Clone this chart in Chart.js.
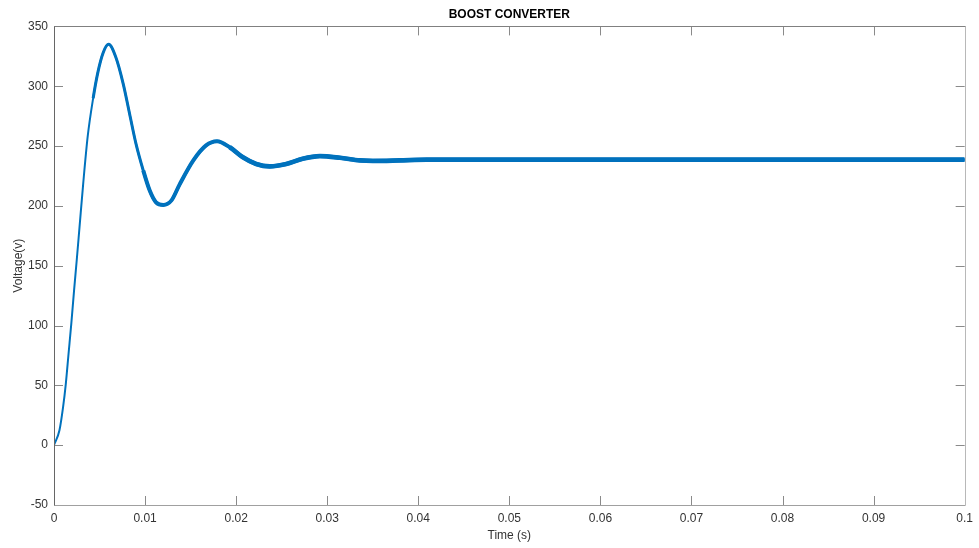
<!DOCTYPE html>
<html lang="en">
<head>
  <meta charset="UTF-8">
  <title>Boost Converter</title>
  <script src="https://cdn.jsdelivr.net/npm/chart.js"></script>
  <style>
    html, body { margin: 0; padding: 0; background: #fff; }
    #wrap { width: 979px; height: 548px; }
  </style>
</head>
<body>
  <div id="wrap"><canvas id="boostChart" width="979" height="548"></canvas></div>

  <script>
    // values
    const times = [0, 0.0006, 0.001, 0.0013, 0.0016, 0.0019, 0.0022, 0.0025, 0.0028, 0.0032,
      0.0037, 0.0043, 0.0048, 0.0054, 0.0060, 0.0068, 0.0076, 0.0083, 0.0090, 0.0098,
      0.0105, 0.0112, 0.0120, 0.0129, 0.0138, 0.0153, 0.0167, 0.0179, 0.0193, 0.0207,
      0.0222, 0.0237, 0.0255, 0.0273, 0.0292, 0.0314, 0.0336, 0.0350, 0.0379, 0.0409,
      0.0456, 0.06, 0.08, 0.1];
    const voltage = [0, 12.5, 32, 51.5, 76.6, 101.6, 129, 155, 182, 218,
      258, 290, 311, 328, 335, 324, 302, 277, 252, 229.6,
      213, 203, 200.8, 204.6, 218, 238, 250.5, 254, 249, 240.8,
      235, 233, 235, 239.4, 241.6, 240.2, 238, 237.6, 238, 238.6,
      238.6, 238.6, 238.6, 238.6];

    const xTicks = [0, 0.01, 0.02, 0.03, 0.04, 0.05, 0.06, 0.07, 0.08, 0.09, 0.1];
    const xTickLabels = ['0', '0.01', '0.02', '0.03', '0.04', '0.05', '0.06', '0.07', '0.08', '0.09', '0.1'];
    const yTicks = [-50, 0, 50, 100, 150, 200, 250, 300, 350];

    const points = times.map((t, i) => ({ x: t, y: voltage[i] }));
    const blue = '#0072BD';

    // the trace gets thicker as the switching ripple grows:
    // same full curve drawn a few times, each copy only visible from `from` on
    function trace(width, from) {
      return {
        data: points,
        borderColor: blue,
        borderWidth: width,
        borderCapStyle: 'butt',
        borderJoinStyle: 'round',
        pointRadius: 0,
        fill: false,
        cubicInterpolationMode: 'monotone',
        segment: {
          borderColor: c => c.p0.parsed.x >= from ? blue : 'rgba(0,0,0,0)'
        }
      };
    }

    // matlab style box with inward ticks on all four sides
    const boxAxes = {
      id: 'boxAxes',
      afterDraw(chart) {
        const {ctx, chartArea: a, scales: {x, y}} = chart;
        const len = 9;
        ctx.save();
        ctx.lineWidth = 1;
        ctx.strokeStyle = '#8a8a8a';
        ctx.beginPath();
        xTicks.forEach(v => {
          const px = Math.round(x.getPixelForValue(v)) + 0.5;
          ctx.moveTo(px, a.bottom); ctx.lineTo(px, a.bottom - len);
          ctx.moveTo(px, a.top); ctx.lineTo(px, a.top + len);
        });
        yTicks.forEach(v => {
          const py = Math.round(y.getPixelForValue(v)) + 0.5;
          ctx.moveTo(a.left, py); ctx.lineTo(a.left + len, py);
          ctx.moveTo(a.right, py); ctx.lineTo(a.right - len, py);
        });
        ctx.stroke();
        const l = Math.round(a.left) + 0.5, r = Math.round(a.right) + 0.5;
        const t = Math.round(a.top) + 0.5, b = Math.round(a.bottom) + 0.5;
        ctx.strokeStyle = '#808080';
        ctx.beginPath(); ctx.moveTo(l, t); ctx.lineTo(r, t); ctx.stroke();
        ctx.strokeStyle = '#666';
        ctx.beginPath(); ctx.moveTo(l, t); ctx.lineTo(l, b); ctx.stroke();
        ctx.strokeStyle = '#a0a0a0';
        ctx.beginPath(); ctx.moveTo(l, b); ctx.lineTo(r, b); ctx.stroke();
        ctx.strokeStyle = '#b8b8b8';
        ctx.beginPath(); ctx.moveTo(r, t); ctx.lineTo(r, b); ctx.stroke();
        ctx.restore();
      }
    };

    const font = { family: "'Liberation Sans', Arial, sans-serif", size: 12 };

    new Chart(document.getElementById('boostChart'), {
      type: 'line',
      data: {
        datasets: [
          trace(2, 0),
          trace(3, 0.0043),
          trace(4, 0.0098),
          trace(4.7, 0.0193)
        ]
      },
      options: {
        responsive: false,
        animation: false,
        layout: { padding: { right: 13, left: 0, top: 0, bottom: 0 } },
        plugins: {
          legend: { display: false },
          tooltip: { enabled: false },
          title: {
            display: true,
            text: 'BOOST CONVERTER',
            fullSize: false,
            color: '#000',
            font: { family: font.family, size: 12, weight: 'bold' },
            padding: { top: 7, bottom: 5 }
          }
        },
        scales: {
          x: {
            type: 'linear',
            min: 0,
            max: 0.1,
            afterFit: s => { s.height = 43; },
            afterBuildTicks: s => { s.ticks = xTicks.map(v => ({ value: v })); },
            grid: { display: false, drawTicks: false, tickLength: 0 },
            border: { display: false },
            ticks: {
              color: '#333',
              font: font,
              padding: 6,
              maxRotation: 0,
              autoSkip: false,
              callback: (v, i) => xTickLabels[i]
            },
            title: {
              display: true,
              text: 'Time (s)',
              color: '#333',
              font: font,
              padding: { top: 0, bottom: 5 }
            }
          },
          y: {
            min: -50,
            max: 350,
            afterFit: s => { s.width = 54; },
            afterBuildTicks: s => { s.ticks = yTicks.map(v => ({ value: v })); },
            grid: { display: false, drawTicks: false, tickLength: 0 },
            border: { display: false },
            ticks: {
              color: '#333',
              font: font,
              padding: 6
            },
            title: {
              display: true,
              text: 'Voltage(v)',
              color: '#333',
              font: font,
              padding: { top: 11, bottom: 0 }
            }
          }
        }
      },
      plugins: [boxAxes]
    });
  </script>
</body>
</html>
